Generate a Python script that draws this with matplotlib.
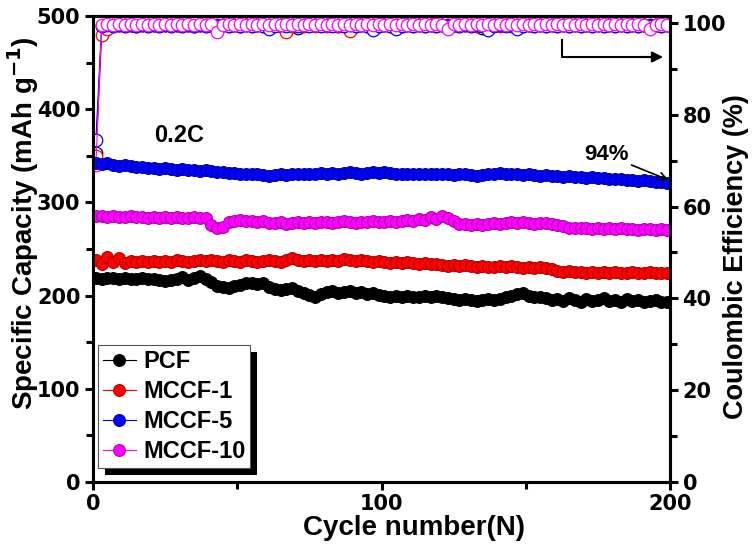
import numpy as np
import matplotlib
matplotlib.use("Agg")
import matplotlib.pyplot as plt
from matplotlib.patches import Rectangle

plt.rcParams['font.family'] = ['Liberation Sans', 'DejaVu Sans']
plt.rcParams['font.weight'] = 'bold'
plt.rcParams['mathtext.default'] = 'bf'

cycles = np.arange(1, 200, 2)

labels = ["PCF", "MCCF-1", "MCCF-5", "MCCF-10"]
colors = ["#000000", "#ff0000", "#0000ff", "#ff00ff"]
edge_colors = ["#000000", "#b00000", "#0000a0", "#b000b0"]

cap_pcf = [219,218,219,219,218,219,218,218,219,218,
           218,217,216,217,218,220,217,219,221,218,
           215,210,209,208,210,211,213,214,212,213,
           209,207,206,207,208,205,203,201,198,202,
           204,205,203,204,205,203,204,202,203,201,
           200,199,200,199,200,198,199,200,199,200,
           198,197,196,195,196,195,194,195,196,195,
           196,198,200,202,203,200,198,199,197,195,
           196,194,197,195,193,196,194,195,197,194,
           195,193,196,194,195,193,194,195,193,193]
cap_mccf1 = [238,234,241,236,240,235,237,236,237,236,
             237,236,237,236,238,237,236,237,238,237,
             238,237,236,238,237,236,238,237,236,237,
             238,237,236,238,240,238,237,238,237,238,
             237,238,237,239,238,237,238,237,236,237,
             236,235,236,235,236,235,234,235,234,234,
             233,232,233,232,233,232,231,232,231,231,
             232,231,232,231,230,231,230,231,230,229,
             226,225,226,225,225,224,225,224,225,224,
             225,224,224,225,224,224,225,224,224,224]
cap_mccf5 = [342,341,342,340,339,340,339,338,338,337,
             337,336,337,336,335,336,335,335,334,335,
             334,333,333,332,332,331,331,330,330,329,
             328,329,330,329,330,331,330,331,331,332,
             331,332,331,332,333,332,331,332,333,332,
             333,332,331,331,330,331,330,331,330,330,
             331,330,329,330,331,329,328,329,330,331,
             332,331,330,330,329,330,329,328,329,328,
             328,327,328,327,327,326,327,326,326,325,
             325,325,324,324,323,324,323,322,322,321]
cap_mccf10 = [285,285,284,285,284,284,285,284,284,283,
              284,283,284,283,284,283,283,284,283,283,
              276,272,274,279,280,281,280,280,279,280,
              278,278,279,277,278,279,278,279,278,279,
              279,278,279,280,279,278,279,279,280,279,
              279,280,279,280,281,280,282,281,284,282,
              285,283,280,277,277,276,277,276,277,278,
              277,278,279,278,279,278,277,278,278,277,
              276,275,273,272,273,272,271,272,271,272,
              271,272,271,271,270,271,271,270,271,270]

ce_pcf = [71.6,99.4,99.6,99.5,99.6,99.5,99.6,99.4,99.6,99.5,
          99.6,99.5,99.6,99.5,99.6,99.5,99.6,99.4,99.5,99.6,
          99.5,99.6,99.5,99.6,99.5,99.4,99.6,99.5,99.6,99.5,
          99.6,99.5,99.6,99.5,99.6,98.8,99.5,99.6,99.5,99.6,
          99.5,99.6,99.4,99.6,99.5,99.6,99.5,99.6,99.5,99.6,
          99.5,99.6,99.5,99.6,99.5,99.6,99.5,99.6,99.5,99.6,
          99.5,99.6,99.5,99.6,99.5,99.6,99.5,98.9,99.5,99.6,
          99.5,99.6,99.5,99.6,99.5,99.6,99.5,99.6,99.5,99.6,
          99.5,99.6,99.5,99.6,99.5,99.6,99.5,99.6,99.5,99.6,
          99.5,99.6,99.5,99.6,99.5,99.6,99.5,99.6,99.5,99.6]
ce_mccf1 = [71.0,97.4,98.6,99.3,99.5,99.4,99.5,99.3,99.5,99.4,
            99.5,99.3,99.5,99.4,99.5,99.4,99.5,99.3,99.5,99.4,
            99.5,99.4,99.5,99.3,99.5,99.4,99.5,99.4,99.5,99.3,
            99.4,99.5,99.3,98.0,99.4,99.5,99.4,99.5,99.3,99.5,
            99.4,99.5,99.3,99.5,98.2,99.4,99.5,99.4,99.5,99.4,
            99.5,99.4,99.5,99.3,99.5,99.4,99.5,99.4,99.5,99.4,
            99.5,99.4,99.5,99.4,99.5,99.4,99.3,99.5,99.4,99.5,
            99.4,99.5,99.4,99.5,99.4,99.5,99.4,99.5,99.4,99.5,
            99.4,99.5,99.4,99.5,99.4,99.5,99.4,99.5,99.4,99.5,
            99.4,99.5,99.4,99.5,99.4,99.5,99.4,99.5,99.4,99.5]
ce_mccf5 = [74.5,99.3,99.5,99.4,99.5,99.4,99.5,99.4,99.5,99.4,
            99.5,99.4,99.5,99.4,99.5,99.4,99.5,99.4,99.5,99.4,
            99.5,99.4,99.5,99.4,99.5,99.4,99.5,99.4,99.5,99.4,
            98.6,99.4,99.5,99.4,99.5,99.4,99.5,99.4,99.5,99.4,
            99.5,99.4,99.5,99.4,99.5,99.4,99.5,99.4,98.5,99.4,
            99.5,99.4,98.6,99.4,99.5,99.4,99.5,99.4,99.5,99.4,
            99.5,99.4,99.5,99.4,99.5,99.4,99.5,99.4,98.5,99.4,
            99.5,99.4,99.5,98.7,99.4,99.5,99.4,99.5,99.4,99.5,
            99.4,99.5,99.4,99.5,99.4,99.5,99.4,99.5,99.4,99.5,
            99.4,99.5,99.4,99.5,99.4,99.5,99.4,99.5,99.4,99.5]
ce_mccf10 = [69.0,99.6,99.7,99.6,99.7,99.6,99.7,99.6,99.7,99.6,
             99.7,99.6,99.7,99.6,99.7,99.6,99.7,99.6,99.7,99.6,
             99.7,98.0,99.6,99.7,99.6,99.7,99.6,99.7,99.6,99.7,
             99.6,99.7,99.6,99.7,99.6,99.7,99.6,99.7,99.6,99.7,
             99.6,99.7,99.6,99.7,99.6,99.7,99.6,99.7,99.6,99.7,
             99.6,99.7,99.6,99.7,99.6,99.7,99.6,99.7,99.6,99.7,
             99.6,98.6,99.7,99.6,99.7,99.6,99.7,99.6,99.7,99.6,
             99.7,99.6,99.7,99.6,99.7,99.6,99.7,99.6,99.7,99.6,
             99.7,99.6,99.7,99.6,99.7,99.6,99.7,99.6,99.7,99.6,
             99.7,99.6,99.7,99.6,99.7,99.6,98.7,99.6,99.7,99.6]

caps = [cap_pcf, cap_mccf1, cap_mccf5, cap_mccf10]
ces = [ce_pcf, ce_mccf1, ce_mccf5, ce_mccf10]

fig = plt.figure(figsize=(7.55, 5.49), dpi=100)
ax = fig.add_axes([93/755, 1-482/549, 577/755, 466/549])
ax2 = ax.twinx()

ax.set_zorder(2)
ax.patch.set_visible(False)

handles = []
for y, c, ec, lab in zip(caps, colors, edge_colors, labels):
    h, = ax.plot(cycles, y, '-', color=c, lw=0.8, marker='o', markersize=8.5,
                 markerfacecolor=c, markeredgecolor=ec, markeredgewidth=0.8, label=lab)
    handles.append(h)

for y, c in zip(ces, colors):
    ax2.plot(cycles, y, '-', color=c, lw=0.8, marker='o', markersize=9,
             markerfacecolor='white', markeredgecolor=c, markeredgewidth=0.9)

ax.set_xlim(0, 200)
ax.set_ylim(0, 500)
ax2.set_ylim(0, 101.5)

ax.set_xticks([0, 100, 200])
ax.set_xticks([50, 150], minor=True)
ax.set_yticks([0, 100, 200, 300, 400, 500])
ax.set_yticks([50, 150, 250, 350, 450], minor=True)
ax2.set_yticks([0, 20, 40, 60, 80, 100])
ax2.set_yticks([10, 30, 50, 70, 90], minor=True)

tick_font = {'family': 'DejaVu Sans', 'weight': 'bold', 'size': 15}
for a in (ax, ax2):
    for s in a.spines.values():
        s.set_linewidth(2.2)
    a.tick_params(which='major', direction='out', length=6, width=2.2, pad=3)
    a.tick_params(which='minor', direction='out', length=5, width=2.2)
ax.set_xticklabels(['0', '100', '200'], fontdict=tick_font)
ax.set_yticklabels(['0', '100', '200', '300', '400', '500'], fontdict=tick_font)
ax2.set_yticklabels(['0', '20', '40', '60', '80', '100'], fontdict=tick_font)

ax.set_xlabel('Cycle number(N)', fontsize=20, fontweight='bold')
ax.xaxis.set_label_coords(0.556, -0.071)
ax.set_ylabel('Specific Capacity (mAh g$^{-1}$)', fontsize=20, fontweight='bold')
ax.yaxis.set_label_coords(-0.09, 0.556)
ax2.set_ylabel('Coulombic Efficiency (%)', fontsize=19.5, fontweight='bold')
ax2.yaxis.set_label_coords(1.092, 0.483)

ax.text(30, 372, '0.2C', fontsize=17, fontweight='bold', ha='center', va='center')
ax.annotate('94%', xy=(199.5, 324), xytext=(178, 351), fontsize=16, fontweight='bold',
            ha='center', va='center',
            arrowprops=dict(arrowstyle='->', color='black', lw=1.2, shrinkA=0, shrinkB=0,
                            mutation_scale=14))

# arrow pointing to right axis
ax.plot([0.813, 0.813, 0.975], [0.948, 0.912, 0.912], color='black', lw=1.5,
        transform=ax.transAxes, clip_on=False)
ax.annotate('', xy=(0.988, 0.912), xytext=(0.95, 0.912), xycoords='axes fraction',
            textcoords='axes fraction',
            arrowprops=dict(arrowstyle='-|>', color='black', lw=1.5, mutation_scale=16,
                            shrinkA=0, shrinkB=0))

leg = ax.legend(handles=handles, loc='lower left', bbox_to_anchor=(0.009, 0.03),
                prop={'weight': 'bold', 'size': 17}, frameon=True, fancybox=False,
                handlelength=1.4, handletextpad=0.3, labelspacing=0.3, borderpad=0.2,
                borderaxespad=0.0, edgecolor='#555555', framealpha=1)
leg.get_frame().set_linewidth(0.8)
leg.set_zorder(10)

fig.canvas.draw()
bb = leg.get_window_extent()
inv = fig.transFigure.inverted()
(x0, y0), (x1, y1) = inv.transform([[bb.x0 + 7, bb.y0 - 7], [bb.x1 + 7, bb.y1 - 7]])
shadow = Rectangle((x0, y0), x1 - x0, y1 - y0, transform=fig.transFigure,
                   facecolor='black', edgecolor='none', zorder=9)
ax.add_artist(shadow)

fig.savefig('out.png', dpi=100)
